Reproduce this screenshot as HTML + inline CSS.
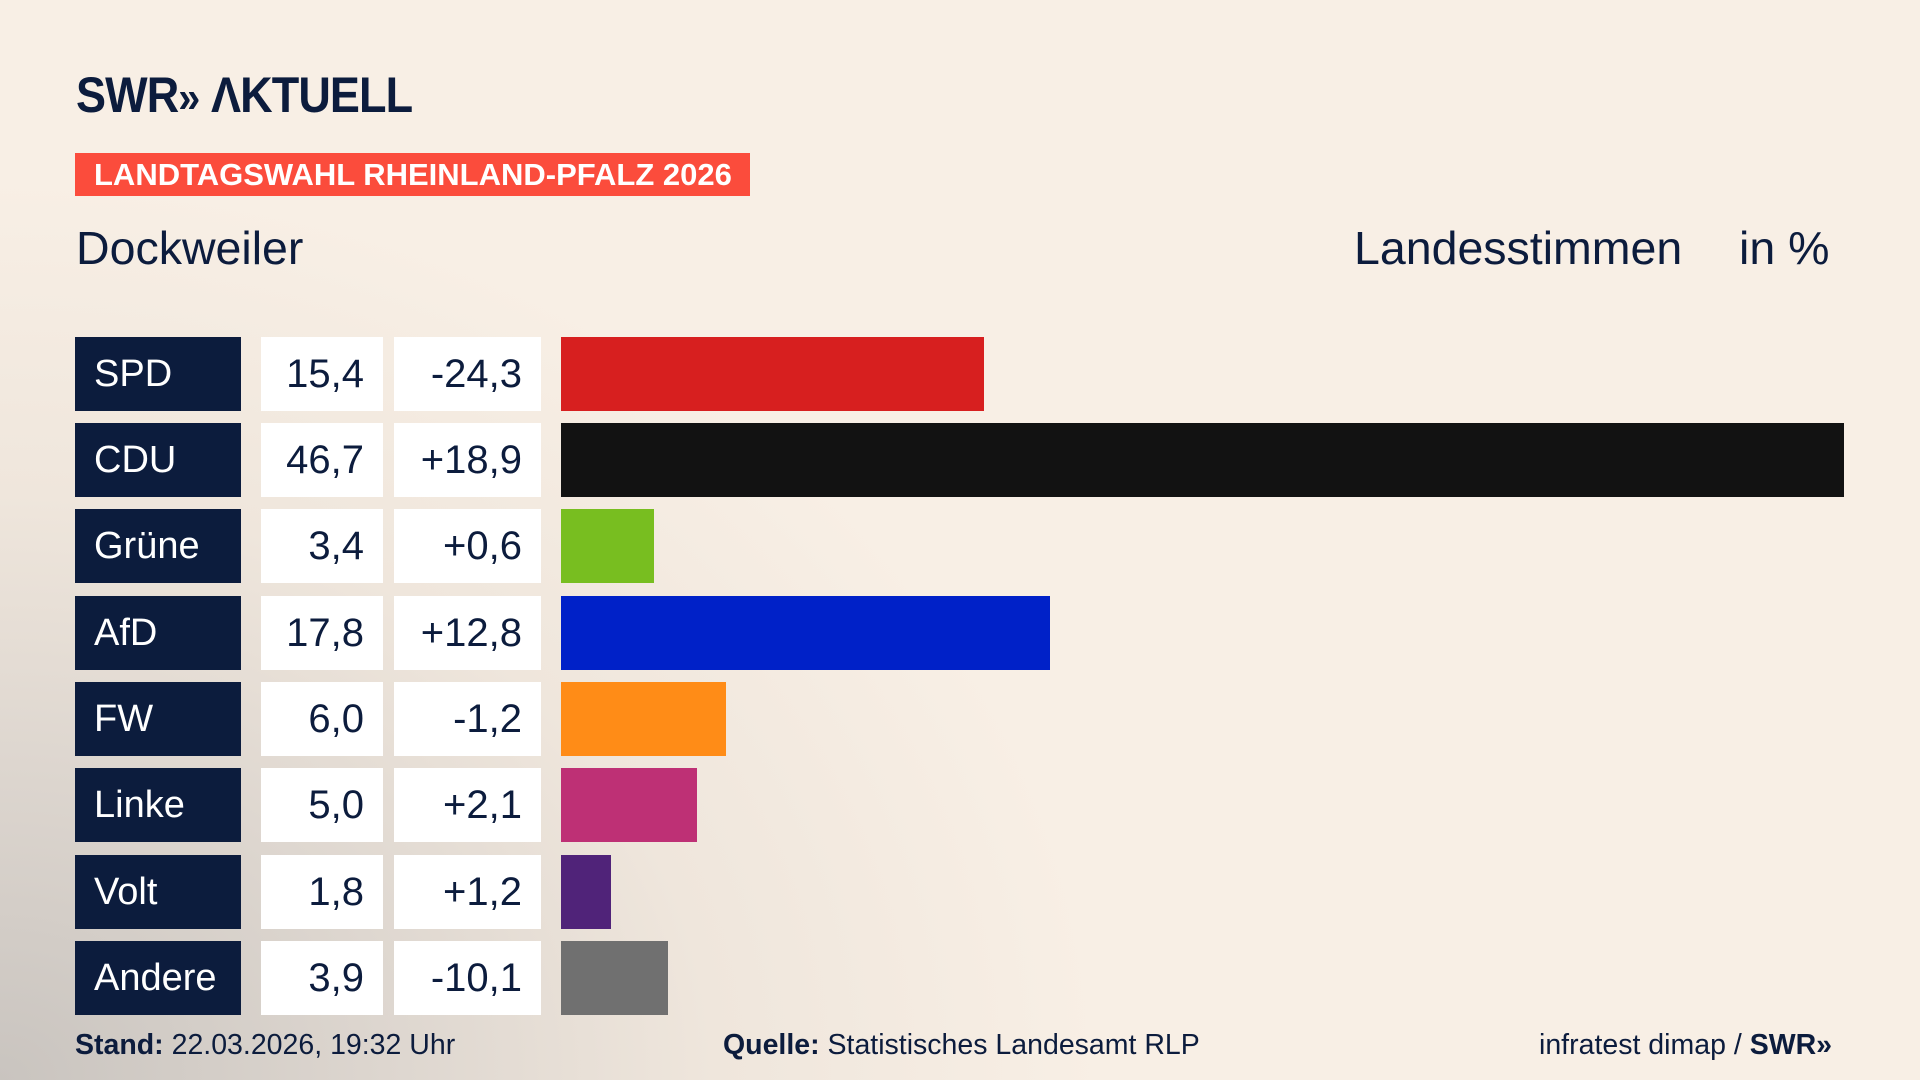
<!DOCTYPE html>
<html><head><meta charset="utf-8"><style>
*{margin:0;padding:0;box-sizing:border-box}
body{width:1920px;height:1080px;overflow:hidden;position:relative;font-family:"Liberation Sans","DejaVu Sans",sans-serif;color:#0c1c3d;
background:radial-gradient(ellipse 1100px 900px at 0px 1080px,#c9c4bf 0%,#ddd6cf 35%,#efe6dc 65%,#f8efe5 100%),#f8efe5;}
.a{position:absolute}
.logo{left:76px;top:66px;font-size:50px;font-weight:bold;letter-spacing:-1px;color:#0c1c3d;transform:scaleX(0.9);transform-origin:0 0}
.ban{left:75px;top:153px;width:675px;height:43px;background:#fb4c3c;color:#fff;font-weight:bold;font-size:31px;line-height:43px;padding-left:19px}
.h{top:221px;font-size:46.5px;color:#0c1c3d}
.p{left:75px;width:166px;height:74px;background:#0c1c3d;color:#fff;font-size:38px;line-height:74px;padding-left:19px}
.v{left:261px;width:122px;height:74px;background:#fff;font-size:40px;line-height:74px;text-align:right;padding-right:19px}
.d{left:394px;width:147px;height:74px;background:#fff;font-size:40px;line-height:74px;text-align:right;padding-right:19px}
.b{left:561px;height:74px}
.f{top:1029px;font-size:28.5px;color:#0c1c3d}
</style></head><body>
<div class="a logo">SWR<span style="font-size:44px">»</span> ΛKTUELL</div>
<div class="a ban">LANDTAGSWAHL RHEINLAND-PFALZ 2026</div>
<div class="a h" style="left:76px">Dockweiler</div>
<div class="a h" style="left:1354px">Landesstimmen</div>
<div class="a h" style="left:1739px">in %</div>

<div class="a p" style="top:337px">SPD</div><div class="a v" style="top:337px">15,4</div><div class="a d" style="top:337px">-24,3</div><div class="a b" style="top:337px;width:423px;background:#d71f1f"></div>
<div class="a p" style="top:423px">CDU</div><div class="a v" style="top:423px">46,7</div><div class="a d" style="top:423px">+18,9</div><div class="a b" style="top:423px;width:1283px;background:#121212"></div>
<div class="a p" style="top:509px">Grüne</div><div class="a v" style="top:509px">3,4</div><div class="a d" style="top:509px">+0,6</div><div class="a b" style="top:509px;width:93px;background:#78be20"></div>
<div class="a p" style="top:596px">AfD</div><div class="a v" style="top:596px">17,8</div><div class="a d" style="top:596px">+12,8</div><div class="a b" style="top:596px;width:489px;background:#0021c8"></div>
<div class="a p" style="top:682px">FW</div><div class="a v" style="top:682px">6,0</div><div class="a d" style="top:682px">-1,2</div><div class="a b" style="top:682px;width:165px;background:#ff8c17"></div>
<div class="a p" style="top:768px">Linke</div><div class="a v" style="top:768px">5,0</div><div class="a d" style="top:768px">+2,1</div><div class="a b" style="top:768px;width:136px;background:#be3075"></div>
<div class="a p" style="top:855px">Volt</div><div class="a v" style="top:855px">1,8</div><div class="a d" style="top:855px">+1,2</div><div class="a b" style="top:855px;width:50px;background:#502379"></div>
<div class="a p" style="top:941px">Andere</div><div class="a v" style="top:941px">3,9</div><div class="a d" style="top:941px">-10,1</div><div class="a b" style="top:941px;width:107px;background:#707070"></div>

<div class="a f" style="left:75px"><b>Stand:</b> 22.03.2026, 19:32 Uhr</div>
<div class="a f" style="left:723px"><b>Quelle:</b> Statistisches Landesamt RLP</div>
<div class="a f" style="left:1539px">infratest dimap / <b>SWR»</b></div>
</body></html>
